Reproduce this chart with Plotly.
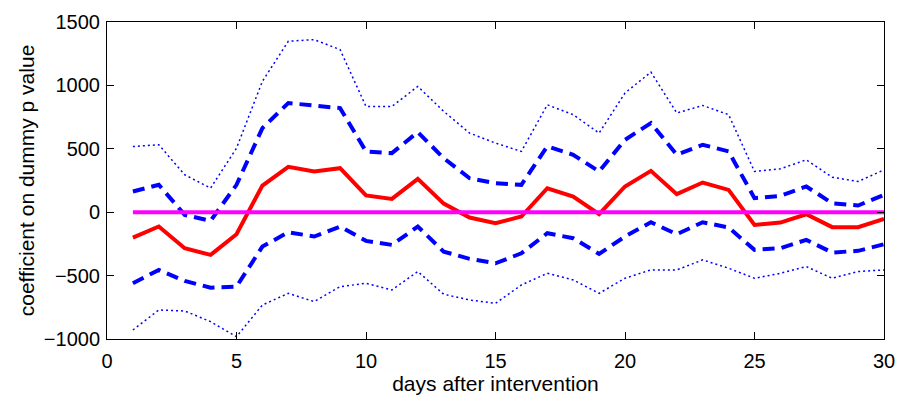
import plotly.graph_objects as go

days = list(range(1, 31))

coef = [-200, -113, -284, -337, -174, 210, 358, 321, 347, 132,
        105, 263, 68, -42, -87, -34, 189, 124, -16, 203,
        326, 142, 234, 176, -100, -82, -16, -118, -118, -53]

upper_dash = [163, 216, -21, -68, 216, 663, 861, 842, 821, 479,
              466, 632, 426, 268, 229, 216, 519, 453, 321, 571,
              703, 453, 532, 479, 111, 129, 203, 71, 53, 137]

lower_dash = [-561, -455, -542, -595, -587, -271, -158, -192, -113, -226,
              -258, -113, -311, -368, -403, -324, -166, -205, -329, -192,
              -79, -174, -79, -121, -297, -284, -218, -318, -305, -253]

upper_dot = [518, 532, 295, 190, 505, 1032, 1348, 1361, 1282, 834,
             834, 992, 795, 624, 545, 479, 847, 769, 624, 940,
             1105, 782, 842, 769, 321, 342, 413, 276, 242, 334]

lower_dot = [-929, -771, -779, -863, -982, -732, -640, -705, -587, -561,
             -613, -468, -647, -692, -719, -574, -482, -534, -640, -521,
             -455, -455, -376, -442, -521, -482, -429, -521, -468, -455]

zero_line = [0] * len(days)

FONT = "Liberation Sans"

fig = go.Figure()
fig.add_trace(go.Scatter(x=days, y=upper_dot, mode="lines",
                         line=dict(color="#0000FF", width=1.5, dash="2px,3px")))
fig.add_trace(go.Scatter(x=days, y=lower_dot, mode="lines",
                         line=dict(color="#0000FF", width=1.5, dash="2px,3px")))
fig.add_trace(go.Scatter(x=days, y=upper_dash, mode="lines",
                         line=dict(color="#0000FF", width=4, dash="12px,7px")))
fig.add_trace(go.Scatter(x=days, y=lower_dash, mode="lines",
                         line=dict(color="#0000FF", width=4, dash="12px,7px")))
fig.add_trace(go.Scatter(x=days, y=coef, mode="lines",
                         line=dict(color="#FF0000", width=4)))
fig.add_trace(go.Scatter(x=days, y=zero_line, mode="lines",
                         line=dict(color="#FF00FF", width=4)))

fig.update_layout(
    width=898, height=395,
    margin=dict(l=107, r=14, t=22, b=56),
    paper_bgcolor="white", plot_bgcolor="white",
    showlegend=False,
    font=dict(family=FONT, size=20, color="black"),
)
fig.update_xaxes(
    range=[0, 30], tickvals=[0, 5, 10, 15, 20, 25, 30],
    showgrid=False, zeroline=False, automargin=False,
    showline=True, linecolor="black", linewidth=1, mirror="allticks",
    ticks="inside", ticklen=7, tickcolor="black",
    ticklabelstandoff=4,
    title=dict(text="days after intervention", standoff=2, font=dict(size=21)),
    tickfont=dict(size=20),
)
fig.update_yaxes(
    range=[-1000, 1500], tickvals=[-1000, -500, 0, 500, 1000, 1500],
    showgrid=False, zeroline=False, automargin=False,
    showline=True, linecolor="black", linewidth=1, mirror="allticks",
    ticks="inside", ticklen=7, tickcolor="black",
    ticklabelstandoff=2,
    title=dict(text="coefficient on dummy p value", standoff=3, font=dict(size=21)),
    tickfont=dict(size=20),
)

fig.write_html("out.html")
